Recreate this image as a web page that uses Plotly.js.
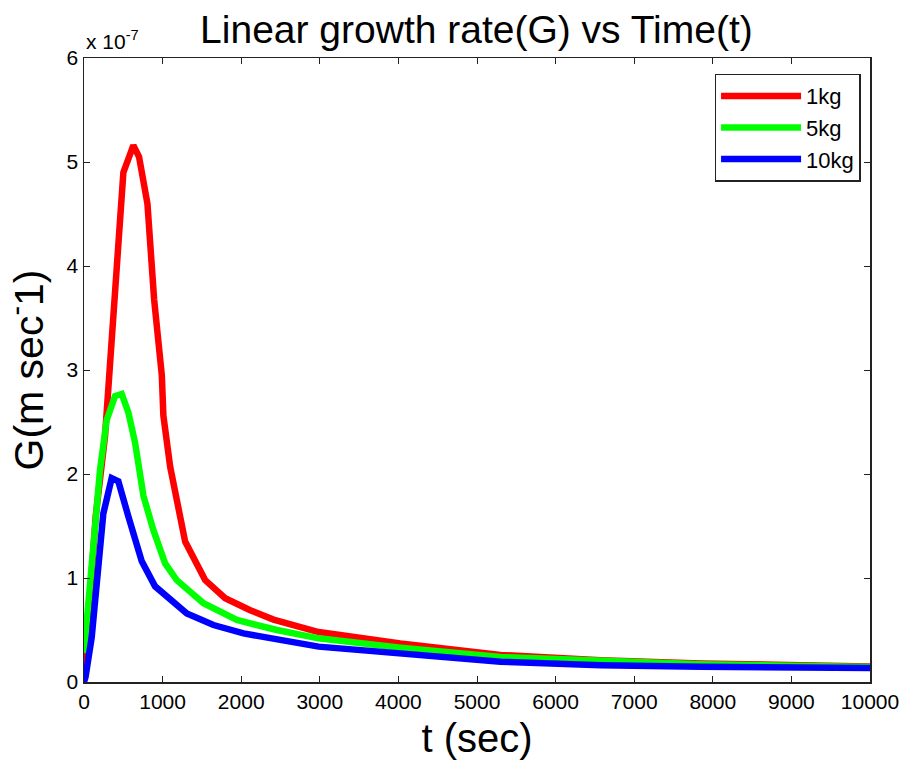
<!DOCTYPE html>
<html>
<head>
<meta charset="utf-8">
<script src="https://cdn.plot.ly/plotly-3.0.1.min.js"></script>
<style>html,body{margin:0;padding:0;background:#fff;}#chart{width:911px;height:767px;}</style>
</head>
<body>
<div id="chart"></div>
<script>
// G values in units of 1e-7 m/s
var t1kg = [0, 60, 150, 267, 331, 403, 501, 628, 700, 807, 892, 990, 1010, 1096, 1287, 1541, 1796, 2115, 2411, 2985, 3500, 4025, 5299, 6573, 7847, 10000];
var g1kg = [0.02, 0.6, 1.6, 2.36, 3.07, 4.0, 4.90, 5.16, 5.05, 4.60, 3.68, 2.95, 2.56, 2.07, 1.35, 0.98, 0.805, 0.69, 0.60, 0.48, 0.42, 0.37, 0.26, 0.21, 0.178, 0.15];

var t5kg = [0, 100, 204, 289, 395, 480, 565, 650, 756, 883, 1032, 1180, 1520, 1945, 2454, 2985, 4025, 5299, 6573, 7847, 10000];
var g5kg = [0.28, 1.1, 2.04, 2.52, 2.75, 2.77, 2.59, 2.30, 1.79, 1.46, 1.14, 0.98, 0.757, 0.596, 0.50, 0.42, 0.33, 0.24, 0.20, 0.17, 0.145];

var t10kg = [0, 20, 98, 161, 246, 352, 437, 565, 735, 904, 1308, 1647, 2029, 2985, 4025, 5299, 6573, 7847, 10000];
var g10kg = [0.0, 0.05, 0.43, 1.01, 1.62, 1.96, 1.93, 1.59, 1.16, 0.92, 0.66, 0.548, 0.467, 0.34, 0.275, 0.195, 0.162, 0.146, 0.135];

var seriesNames = ['1kg', '5kg', '10kg'];
var seriesColors = ['#ff0000', '#00ff00', '#0000ff'];
var xTicks = [0, 1000, 2000, 3000, 4000, 5000, 6000, 7000, 8000, 9000, 10000];
var yTicks = [0, 1, 2, 3, 4, 5, 6];

var xs = [t1kg, t5kg, t10kg];
var ys = [g1kg, g5kg, g10kg];
var data = seriesNames.map(function(n, i) {
  return {x: xs[i], y: ys[i], name: n, type: 'scatter', mode: 'lines',
          line: {color: seriesColors[i], width: 6.5}};
});

var font = 'Liberation Sans, Arial, sans-serif';
var layout = {
  width: 911, height: 767,
  margin: {l: 84, r: 41, t: 58, b: 85},
  paper_bgcolor: '#ffffff', plot_bgcolor: '#ffffff',
  font: {family: font, color: '#000', size: 21},
  title: {text: 'Linear growth rate(G) vs Time(t)', font: {size: 39, family: font, color: '#000'}, x: 0.523, xanchor: 'center', y: 0.962, yanchor: 'middle'},
  xaxis: {range: [0, 10000], tickvals: xTicks, ticktext: xTicks.map(String), ticks: 'inside', ticklen: 6, tickcolor: '#222',
          showline: true, linecolor: '#222', linewidth: 1.5, mirror: 'ticks', showgrid: false, zeroline: false,
          tickfont: {size: 21}, title: {text: 't (sec)', font: {size: 40}, standoff: 12}},
  yaxis: {range: [0, 6], tickvals: yTicks, ticktext: yTicks.map(String), ticks: 'inside', ticklen: 6, tickcolor: '#222',
          showline: true, linecolor: '#222', linewidth: 1.5, mirror: 'ticks', showgrid: false, zeroline: false,
          tickfont: {size: 21}, title: {text: 'G(m sec<sup>-</sup>1)', font: {size: 41}, standoff: 14}},
  legend: {x: 0.988, xanchor: 'right', y: 0.975, yanchor: 'top', bgcolor: '#fff', bordercolor: '#222', borderwidth: 1.5,
           font: {size: 22}, itemwidth: 80, tracegroupgap: 0},
  annotations: [{text: 'x 10<sup>-7</sup>', xref: 'paper', yref: 'paper', x: 0, xanchor: 'left', y: 1.005, yanchor: 'bottom',
                 showarrow: false, font: {size: 21}}],
  showlegend: true
};
Plotly.newPlot('chart', data, layout, {displayModeBar: false, staticPlot: true});
</script>
</body>
</html>
